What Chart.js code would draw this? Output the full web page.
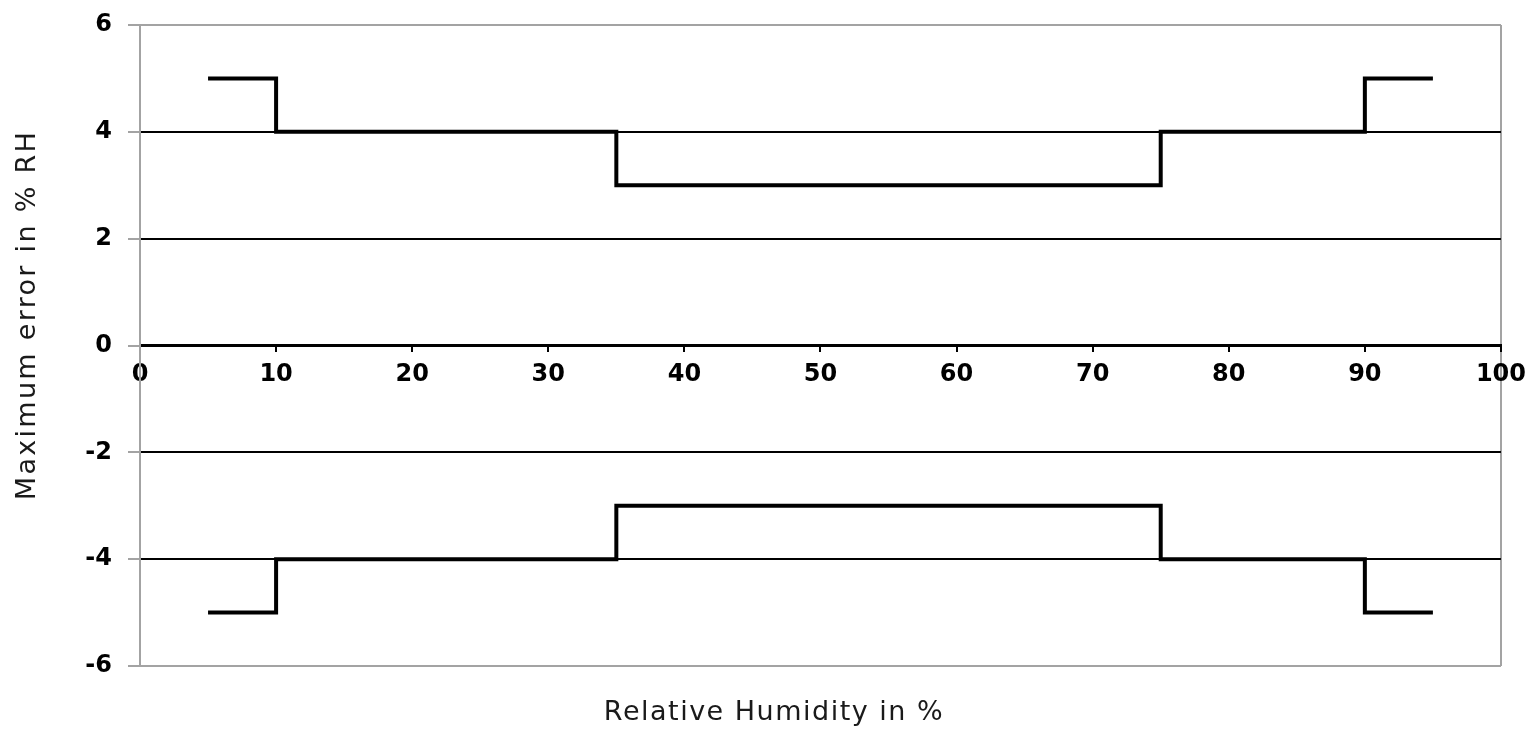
<!DOCTYPE html>
<html>
<head>
<meta charset="utf-8">
<script src="https://cdn.jsdelivr.net/npm/chart.js@4/dist/chart.umd.min.js"></script>
<style>
  html, body { margin: 0; padding: 0; background: #fff; }
  #wrap { width: 1536px; height: 730px; }
</style>
</head>
<body>
<div id="wrap"><canvas id="grafico_erro"></canvas></div>
<script>
// pontos de quebra da curva (umidade relativa em %)
const umidade = [5, 10, 35, 75, 90, 95]
// erro maximo positivo e negativo em cada faixa
const erro_superior = [5, 4, 3, 4, 5, 5]
const erro_inferior = [-5, -4, -3, -4, -5, -5]

const titulo_x = 'Relative Humidity in %'
const titulo_y = 'Maximum error in % RH'

const cinza = '#a3a3a3'
const fonte = 'DejaVu Sans'

function montar_pontos(valores) {
    return umidade.map((u, i) => ({ x: u, y: valores[i] }))
}

// titulos dos eixos desenhados a mao, fora do centro do grafico
const titulos_eixos = {
    id: 'titulos_eixos',
    afterDraw(chart) {
        const ctx = chart.ctx
        ctx.save()
        ctx.fillStyle = '#1a1a1a'
        ctx.font = '27px "' + fonte + '"'
        ctx.textAlign = 'center'
        ctx.textBaseline = 'middle'
        ctx.letterSpacing = '1.5px'
        ctx.fillText(titulo_x, 774, 713)
        ctx.letterSpacing = '2.3px'
        ctx.translate(28, 315)
        ctx.rotate(-Math.PI / 2)
        ctx.fillText(titulo_y, 0, 0)
        ctx.restore()
    }
}

const data_erro = {
    datasets: [{
        label: 'superior',
        data: montar_pontos(erro_superior),
        showLine: true,
        stepped: true,
        borderColor: '#000',
        borderWidth: 4,
        pointRadius: 0,
        fill: false
    }, {
        label: 'inferior',
        data: montar_pontos(erro_inferior),
        showLine: true,
        stepped: true,
        borderColor: '#000',
        borderWidth: 4,
        pointRadius: 0,
        fill: false
    }]
}

const config_erro = {
    type: 'scatter',
    data: data_erro,
    plugins: [titulos_eixos],
    options: {
        responsive: true,
        maintainAspectRatio: false,
        animation: false,
        layout: { padding: { left: 0, right: 34, top: 25, bottom: 64 } },
        plugins: {
            legend: { display: false },
            tooltip: { enabled: false }
        },
        scales: {
            x: {
                type: 'linear',
                position: { y: 0 },
                min: 0,
                max: 100,
                ticks: {
                    stepSize: 10,
                    color: '#000',
                    padding: 10,
                    font: { family: fonte, size: 24, weight: 'bold' }
                },
                grid: {
                    color: (c) => (c.tick && c.tick.value === 100) ? cinza : 'rgba(0,0,0,0)',
                    lineWidth: 2,
                    tickColor: '#000',
                    tickLength: 5
                },
                border: { color: '#000', width: 3 }
            },
            y: {
                min: -6,
                max: 6,
                afterFit: (scale) => {
                    scale.width = 140
                    scale.paddingTop = 0
                    scale.paddingBottom = 0
                },
                ticks: {
                    stepSize: 2,
                    color: '#000',
                    padding: 16,
                    font: { family: fonte, size: 24, weight: 'bold' }
                },
                grid: {
                    color: (c) => {
                        const v = c.tick ? c.tick.value : null
                        if (v === 6 || v === -6) return cinza
                        if (v === 0) return 'rgba(0,0,0,0)'
                        return '#000'
                    },
                    lineWidth: 2,
                    tickColor: cinza,
                    tickLength: 12
                },
                border: { color: cinza, width: 2 }
            }
        }
    }
}

const ctx_erro = document.getElementById('grafico_erro')
new Chart(ctx_erro, config_erro)
</script>
</body>
</html>
